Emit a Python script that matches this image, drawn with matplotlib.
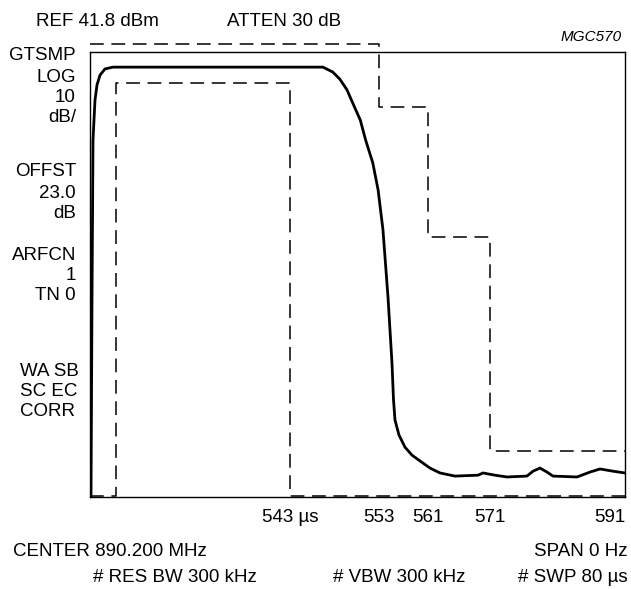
import numpy as np
import matplotlib
matplotlib.use("Agg")
import matplotlib.pyplot as plt

plt.rcParams['font.family'] = ['Liberation Sans', 'DejaVu Sans']

# sweep axis: the drawing is schematic, so time is laid out piecewise
us_anchor = [511, 543, 553, 561, 571, 591]
pos_anchor = [0, 200, 289, 338, 400, 535]

# measured burst (time in us, level in dBm)
trace_us = [511.16, 511.32, 511.48, 511.8, 512.12, 512.6, 513.4, 514.68, 528.6,
            546.7, 547.8, 548.6, 549.4, 550.1, 550.9, 551.5, 552.3, 552.9,
            553.65, 554.47, 555.12, 555.37, 555.61, 556.27, 557.24, 558.39,
            559.69, 561.32, 562.94, 565.35, 569.06, 569.87, 571.74, 573.52,
            576.48, 577.37, 578.41, 579.44, 580.33, 583.89, 585.81, 587.30,
            589.22, 591.0]
trace_dbm = [-58.2, -13.9, 22.0, 31.0, 34.4, 36.6, 38.0, 38.4, 38.4,
             38.4, 37.3, 35.7, 33.3, 30.1, 26.5, 22.0, 16.9, 10.8,
             1.8, -13.3, -28.1, -36.4, -40.9, -44.3, -47.0, -48.8,
             -50.1, -51.7, -52.8, -53.5, -53.3, -52.8, -53.3, -53.7,
             -53.5, -52.4, -51.7, -52.6, -53.5, -53.7, -52.6, -51.9,
             -52.4, -52.8]

# upper and lower limit masks
upper_us = [511, 553, 553, 561, 561, 571, 571, 591]
upper_dbm = [43.6, 43.6, 29.4, 29.4, 0.2, 0.2, -47.9, -47.9]
lower_us = [511, 515.2, 515.2, 543, 543, 591]
lower_dbm = [-58.0, -58.0, 34.8, 34.8, -58.0, -58.0]

tick_us = [543, 553, 561, 571, 591]
tick_labels = ['543 \u00b5s', '553', '561', '571', '591']

ref_level = 41.8
db_per_div = 10
n_div = 10

left_labels = [('GTSMP', 56), ('LOG', 77), ('10', 97), ('dB/', 117),
               ('OFFST', 172), ('23.0', 193), ('dB', 213),
               ('ARFCN', 255), ('1', 276), ('TN 0', 296)]
left_labels2 = [('WA SB', 371), ('SC EC', 392), ('CORR', 412)]

W, H = 631, 589
FS = 13.5
fig = plt.figure(figsize=(W / 100, H / 100), dpi=100)
ax = fig.add_axes([90 / W, 1 - 497 / H, 535 / W, 445 / H])


def fwd(v):
    return np.interp(v, us_anchor, pos_anchor)


def inv(p):
    return np.interp(p, pos_anchor, us_anchor)


ax.set_xscale('function', functions=(fwd, inv))
ax.set_xlim(us_anchor[0], us_anchor[-1])
ax.set_ylim(ref_level - db_per_div * n_div, ref_level)

dash = (0, (9, 5))
ax.plot(upper_us, upper_dbm, color='black', lw=1.1, linestyle=dash, clip_on=False)
ax.plot(lower_us, lower_dbm, color='black', lw=1.1, linestyle=dash)
ax.plot(trace_us, trace_dbm, color='black', lw=2.0, solid_joinstyle='round')

ax.set_xticks(tick_us)
ax.set_xticklabels(tick_labels, fontsize=FS)
ax.xaxis.set_minor_locator(matplotlib.ticker.NullLocator())
ax.tick_params(axis='x', length=0, pad=9)
ax.get_xticklabels()[-1].set_horizontalalignment('right')
ax.set_yticks([])
for s in ax.spines.values():
    s.set_linewidth(1.0)


def ftext(x, y, s, **kw):
    fig.text(x / W, 1 - y / H, s, va='center', fontsize=FS, **kw)


ftext(36, 21, 'REF 41.8 dBm')
ftext(227, 21, 'ATTEN 30 dB')
fig.text(622 / W, 1 - 37 / H, 'MGC570', ha='right', va='center',
         fontsize=11, style='italic')
for s, y in left_labels:
    ftext(76, y, s, ha='right')
for s, y in left_labels2:
    ftext(20, y, s, ha='left')
ftext(13, 552, 'CENTER 890.200 MHz')
ftext(628, 552, 'SPAN 0 Hz', ha='right')
ftext(93, 578, '# RES BW 300 kHz')
ftext(333, 578, '# VBW 300 kHz')
ftext(628, 578, '# SWP 80 \u00b5s', ha='right')

fig.savefig('out.png', dpi=100)
